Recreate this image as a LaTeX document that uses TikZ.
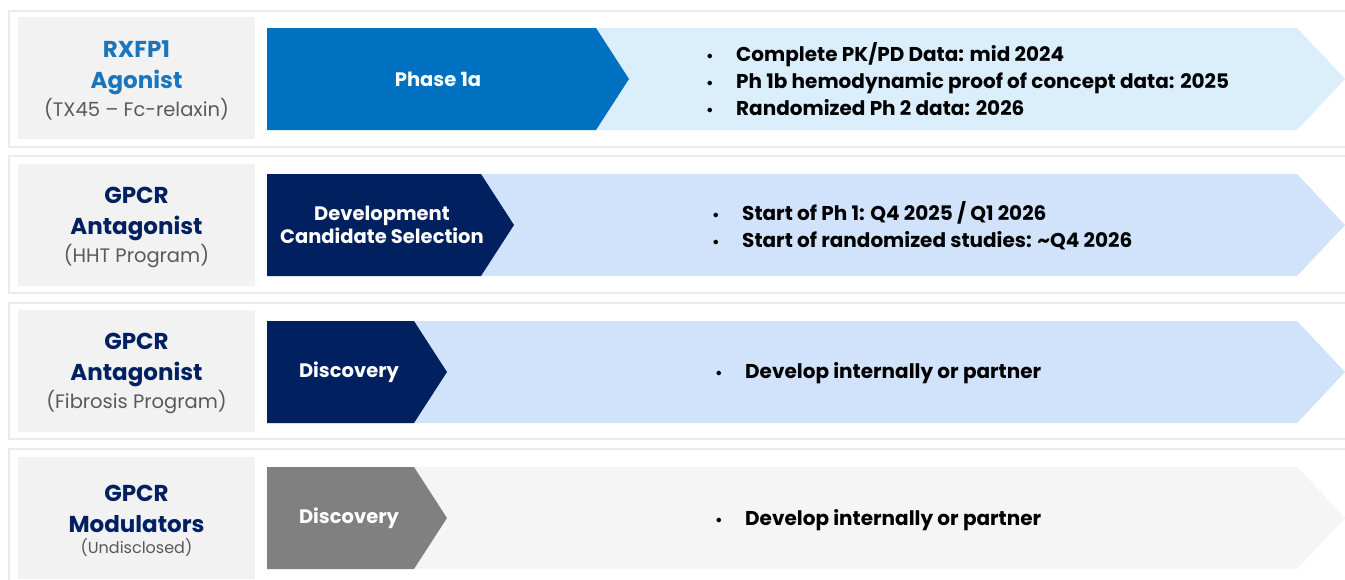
\documentclass[tikz,border=0pt]{standalone}
\usepackage{fontspec}
\setmainfont{Poppins}
\usetikzlibrary{positioning}
\definecolor{rowline}{HTML}{EBEBEB}
\definecolor{labelfill}{HTML}{F2F2F2}
\definecolor{phaseblue}{HTML}{0070C0}
\definecolor{navy}{HTML}{002060}
\definecolor{midgray}{HTML}{808080}
\definecolor{lightcyan}{HTML}{DAEEFC}
\definecolor{lightlav}{HTML}{D1E2FB}
\definecolor{lightgray}{HTML}{F5F5F5}
\definecolor{headblue}{HTML}{1A75BC}
\definecolor{subgray}{HTML}{595959}
\newcommand\itm{\makebox[30pt][l]{\scalebox{0.75}{\textbullet}}}

\begin{document}
\begin{tikzpicture}[x=1pt, y=-1pt, inner sep=0pt,
  rowbox/.style={draw=rowline, line width=1.2pt, fill=white},
  labelbox/.style={fill=labelfill},
  headtext/.style={align=center, font=\fontsize{23}{31}\selectfont\bfseries},
  subtext/.style={align=center, text=subgray, font=\fontsize{19.5}{24}\selectfont},
  stagetext/.style={align=center, text=white, font=\fontsize{19.5}{23}\selectfont\bfseries},
  milestones/.style={anchor=west, align=left, font=\fontsize{20}{27}\selectfont\bfseries}]
\useasboundingbox (0,0) rectangle (1345,579);
\clip (0,0) rectangle (1345,579);
% row frames and label panels
\foreach \top/\bot in {11/147,156/293,303/439,449/600}
  \draw[rowbox] (9,\top) rectangle (1360,\bot);
\foreach \top in {17,164,310,457}
  \fill[labelbox] (18,\top) rectangle (255,{\top+122});
% stage chevrons (light outlook behind, current stage in front)
\foreach \top/\tip/\light/\dark in {28/629/lightcyan/phaseblue, 174/514/lightlav/navy,
    321/447/lightlav/navy, 467/447/lightgray/midgray} {
  \fill[\light] (267,\top) -- (1297,\top) -- (1345,{\top+51}) -- (1297,{\top+102}) -- (267,{\top+102}) -- cycle;
  \fill[\dark] (267,\top) -- ({\tip-33},\top) -- (\tip,{\top+51}) -- ({\tip-33},{\top+102}) -- (267,{\top+102}) -- cycle;
}

% RXFP1 agonist
\node[headtext, text=headblue] (rxfp) at (136.5,68) {RXFP1\\Agonist};
\node[subtext, below=3pt of rxfp] (rxfpsub) {(TX45 – Fc-relaxin)};
\node[stagetext] (phase1a) at (438,79) {Phase 1a};
\node[milestones] (rxfpmiles) at (706,79) {\itm Complete PK/PD Data: mid 2024\\
  \itm Ph 1b hemodynamic proof of concept data: 2025\\ \itm Randomized Ph 2 data: 2026};

% GPCR antagonist, HHT
\node[headtext, text=navy] (hht) at (136.5,214) {GPCR\\Antagonist};
\node[subtext, below=3pt of hht] (hhtsub) {(HHT Program)};
\node[stagetext] (devcand) at (382,225) {Development\\Candidate Selection};
\node[milestones] (hhtmiles) at (712,226) {\itm Start of Ph 1: Q4 2025 / Q1 2026\\
  \itm Start of randomized studies: \textasciitilde Q4 2026};

% GPCR antagonist, fibrosis
\node[headtext, text=navy] (fib) at (136.5,360) {GPCR\\Antagonist};
\node[subtext, below=3pt of fib] (fibsub) {(Fibrosis Program)};
\node[stagetext] (fibdisc) at (349,372) {Discovery};
\node[milestones] (fibmiles) at (715,373) {\itm Develop internally or partner};

% GPCR modulators
\node[headtext, text=navy] (mod) at (136.5,509) {GPCR\\Modulators};
\node[subtext, below=5pt of mod, font=\fontsize{16}{20}\selectfont] (modsub) {(Undisclosed)};
\node[stagetext] (moddisc) at (349,518) {Discovery};
\node[milestones] (modmiles) at (715,520) {\itm Develop internally or partner};
\end{tikzpicture}
\end{document}
